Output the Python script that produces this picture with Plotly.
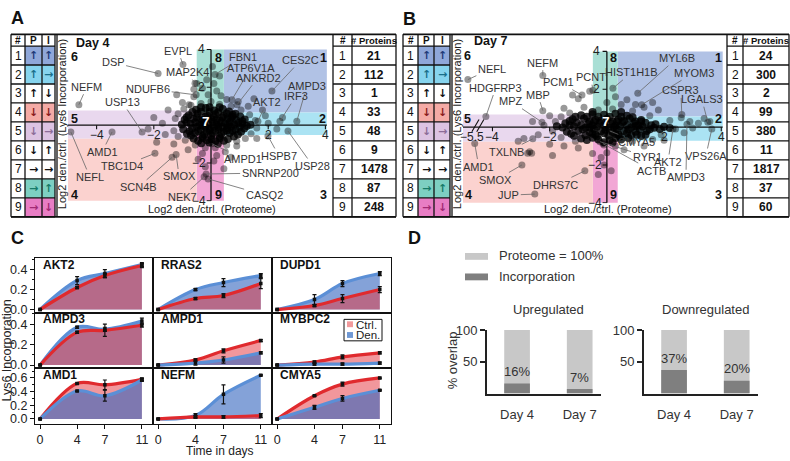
import plotly.graph_objects as go

W, H = 790, 461
FONT = "Liberation Sans, Arial, Helvetica, sans-serif"

# ======================= DATA =======================
class_ids = [1, 2, 3, 4, 5, 6, 7, 8, 9]
proteome_arrow = ["↑", "↑", "↑", "↓", "↓", "↓", "→", "→", "→"]
incorp_arrow = ["↑", "→", "↓", "↓", "→", "↑", "→", "↑", "↓"]
proteins_day4 = [21, 112, 1, 33, 48, 9, 1478, 87, 248]
proteins_day7 = [24, 300, 2, 99, 380, 11, 1817, 37, 60]

scatter_ticks = [-4, -2, 2, 4]

# class thresholds (log2 ratios): proteome [low, high]; incorporation left/right [low, high]
day4_x_thr = [-0.5, 0.45]
day4_yl_thr = [-0.72, 0.77]
day4_yr_thr = [-0.52, 0.67]
day7_x_thr = [-0.49, 0.38]
day7_yl_thr = [-0.77, 0.67]
day7_yr_thr = [-0.72, 0.56]

# labelled proteins
day4_names = ["EVPL", "DSP", "MAP2K4", "NDUFB6", "NEFM", "USP13", "AMD1", "NEFL", "TBC1D4",
              "SCN4B", "SMOX", "NEK7", "FBN1", "ATP6V1A", "ANKRD2", "CES2C", "AMPD3", "IRF3",
              "AKT2", "AMPD1", "HSPB7", "USP28", "SNRNP200", "CASQ2"]
day4_x = [-0.98, -1.85, -0.56, -0.52, -4.62, -2.41, -3.46, -4.90, -1.96, -1.36, -1.22, -0.24,
          0.14, 0.73, 0.91, 2.13, 3.0, 2.41, 1.64, 0.03, 1.99, 2.69, -0.17, -0.10]
day4_y = [3.20, 2.73, 2.22, 1.60, 1.08, -0.36, -0.36, -0.36, -1.49, -1.70, -1.55, -2.73,
          2.68, 1.34, 1.08, 1.80, 0.21, 0.21, 0.21, -0.98, -0.57, -0.31, -2.58, -2.84]
day4_ax = [-5, -45, -8, -48, 8, -20, -10, 19, -33, -34, 3, -22, 28, 19, 21, 29, 10, 16, 9, 31, 11, 25, 64, 56]
day4_ay = [-14, -11, -11, -6, -18, -30, 20, 45, 13, 30, 22, 20, -17, -32, -27, -31, -35, -25, -19, 15, 20, 35, -1, 16]

day7_names = ["NEFL", "NEFM", "PCM1", "PCNT", "HDGFRP3", "MBP", "MPZ", "TXLNB", "AMD1", "SMOX",
              "DHRS7C", "JUP", "HIST1H1B", "MYL6B", "MYOM3", "CSPR3", "LGALS3", "VPS26A", "AKT2",
              "AMPD3", "CMYA5", "RYR1", "ACTB"]
day7_x = [-4.86, -2.24, -0.87, -0.49, -4.23, -2.24, -2.27, -2.59, -4.62, -2.97, -0.77, -2.52,
          0.21, 1.08, 1.22, 2.62, 3.53, 3.67, 2.31, 2.8, 0.1, -0.24, -0.14]
day7_y = [2.51, 2.72, 1.69, 1.95, 0.56, 0.87, 0.26, -0.62, -0.87, -2.0, -2.31, -3.54,
          2.05, 1.79, 1.18, 0.67, 0.26, -0.1, -0.1, 0.15, -0.2, -0.77, -0.87]
day7_ax = [24, 0, -23, -2, 10, -5, -31, -26, 4, -26, -29, -26, 19, 39, 52, -1, -6, -6, -5, -1, 27, 47, 49]
day7_ay = [-11, -13, -13, -13, -29, -16, -21, 13, 23, 15, 14, 1, -16, -35, -32, -24, -23, 27, 33, 53, 11, 15, 27]

# unlabelled proteins: densely packed centre of each cloud
day4_core = [
    (-0.52, 0.82), (-0.18, 0.9), (0.12, 0.78), (0.41, 0.85), (0.63, 0.72),
    (-0.78, 0.52), (-0.47, 0.6), (-0.13, 0.5), (0.16, 0.58), (0.44, 0.49), (0.76, 0.55), (1.02, 0.46),
    (-0.92, 0.28), (-0.61, 0.33), (-0.29, 0.25), (0.02, 0.31), (0.31, 0.24), (0.58, 0.34), (0.88, 0.27), (1.18, 0.3),
    (-1.02, 0.04), (-0.72, 0.08), (-0.41, 0.01), (-0.12, 0.06), (0.19, 0.02), (0.49, 0.09), (0.81, 0.03), (1.1, 0.07), (1.38, 0.02),
    (-0.97, -0.21), (-0.66, -0.17), (-0.36, -0.24), (-0.04, -0.19), (0.27, -0.22), (0.56, -0.16), (0.86, -0.23), (1.16, -0.18),
    (-0.84, -0.46), (-0.56, -0.42), (-0.24, -0.49), (0.06, -0.44), (0.36, -0.47), (0.66, -0.41), (0.94, -0.5),
    (-0.61, -0.71), (-0.29, -0.68), (0.02, -0.74), (0.31, -0.69), (0.59, -0.73),
    (-0.34, -0.96), (-0.06, -0.92), (0.24, -0.98),
    (-0.5, 0.4), (-0.2, 0.45), (0.1, 0.4), (0.4, 0.42), (0.7, 0.38), (-0.55, 0.15), (-0.25, 0.12),
    (0.05, 0.18), (0.35, 0.14), (0.65, 0.16), (0.95, 0.12), (-0.5, -0.08), (-0.2, -0.1), (0.1, -0.06),
    (0.4, -0.1), (0.7, -0.07), (-0.45, -0.32), (-0.15, -0.35), (0.15, -0.3), (0.45, -0.34), (0.75, -0.3),
    (-0.3, -0.58), (0.0, -0.55), (0.3, -0.6),
    (-0.65, 0.7), (-0.35, 0.72), (-0.05, 0.7), (0.25, 0.68), (0.55, 0.62), (0.85, 0.6),
    (-0.85, 0.42), (-0.35, 0.3), (0.2, 0.28), (0.75, 0.45), (1.1, 0.2), (1.25, -0.05),
    (-0.85, 0.15), (-0.3, -0.02), (0.25, -0.1), (0.6, 0.0), (1.0, -0.1),
    (-0.75, -0.32), (-0.05, -0.25), (0.55, -0.28), (1.05, -0.35),
    (-0.7, -0.55), (-0.15, -0.8), (0.15, -0.85), (0.45, -0.82), (0.8, -0.6), (-0.45, -0.82),
    (-0.05, 0.95), (0.3, 0.95), (-0.35, 0.95),
]
# unlabelled proteins: sparse fringe of each cloud
day4_cloud = [
    (-1.25, 0.35), (-1.3, -0.3), (-1.15, 0.6), (-0.95, 0.85), (-0.7, 1.05), (-0.35, 1.15), (0.0, 1.25),
    (0.3, 1.1), (0.7, 1.0), (1.05, 0.8), (1.35, 0.55), (1.55, 0.25), (1.6, -0.15), (1.4, -0.45),
    (1.2, -0.7), (0.9, -0.85), (0.55, -1.05), (0.15, -1.2), (-0.2, -1.2), (-0.55, -1.05), (-0.9, -0.8),
    (-1.15, -0.6),
    (-0.1, 1.6), (0.2, 1.8), (-0.3, 1.95), (0.1, 2.2), (-0.15, 2.4), (0.35, 1.55), (0.55, 1.35),
    (0.95, 1.25), (1.3, 1.0), (-0.6, 1.5), (-1.0, 1.2), (-1.5, 0.8), (-1.7, 0.1), (-1.6, -0.5),
    (-1.3, -1.0), (-0.8, -1.3), (-0.3, -1.5), (0.2, -1.6), (0.1, -1.9), (0.5, -1.4), (0.9, -1.1),
    (1.6, -0.7), (1.9, 0.5), (2.0, 0.1), (1.8, 0.8), (2.3, -0.2), (-2.0, 0.4), (-1.9, -0.9),
    (-2.2, -0.2), (0.7, -1.7), (-0.45, -1.8), (0.3, 2.6), (-0.5, 2.2), (1.5, 1.4), (2.5, 0.4),
    (-1.2, 1.6), (-0.2, -2.2), (0.45, -2.3), (-0.77, 1.08), (-0.6, 1.9), (0.05, 3.1),
]
day7_core = [
    (-0.9, 0.62), (-0.5, 0.68), (-0.1, 0.65), (0.3, 0.7), (0.7, 0.6),
    (-1.2, 0.42), (-0.8, 0.45), (-0.4, 0.38), (0.0, 0.44), (0.4, 0.4), (0.8, 0.46), (1.2, 0.38),
    (-1.45, 0.2), (-1.05, 0.24), (-0.65, 0.17), (-0.25, 0.22), (0.15, 0.18), (0.55, 0.25), (0.95, 0.2), (1.35, 0.23), (1.7, 0.15),
    (-1.55, -0.02), (-1.15, 0.03), (-0.75, -0.04), (-0.35, 0.02), (0.05, -0.03), (0.45, 0.04), (0.85, -0.02), (1.25, 0.03), (1.65, -0.04), (2.0, 0.02),
    (-1.4, -0.24), (-1.0, -0.2), (-0.6, -0.27), (-0.2, -0.22), (0.2, -0.26), (0.6, -0.2), (1.0, -0.25), (1.4, -0.21),
    (-1.15, -0.46), (-0.75, -0.43), (-0.35, -0.48), (0.05, -0.44), (0.45, -0.49), (0.85, -0.42), (1.2, -0.47),
    (-0.7, -0.68), (-0.3, -0.65), (0.1, -0.7), (0.5, -0.66),
    (-0.6, 0.3), (-0.2, 0.33), (0.2, 0.3), (0.6, 0.32), (1.0, 0.3), (-0.9, 0.1), (-0.5, 0.08),
    (-0.1, 0.1), (0.3, 0.07), (0.7, 0.1), (1.1, 0.08), (-0.85, -0.12), (-0.45, -0.1), (-0.05, -0.14),
    (0.35, -0.1), (0.75, -0.13), (1.15, -0.1), (-0.5, -0.35), (-0.1, -0.33), (0.3, -0.36), (0.7, -0.32),
    (-1.1, 0.55), (-0.7, 0.55), (-0.3, 0.55), (0.1, 0.55), (0.5, 0.55), (0.9, 0.52),
    (-1.3, 0.32), (-0.45, 0.28), (0.35, 0.3), (1.2, 0.3), (1.55, 0.1), (1.85, -0.1),
    (-1.3, 0.08), (-0.6, -0.02), (0.25, 0.0), (1.0, 0.05), (1.5, -0.12),
    (-1.25, -0.35), (-0.4, -0.4), (0.4, -0.38), (1.05, -0.4), (1.35, -0.4),
    (-0.9, -0.6), (-0.5, -0.56), (0.3, -0.58), (0.75, -0.58), (-0.1, -0.8), (0.2, -0.82),
    (-1.75, 0.05), (2.2, -0.05), (-0.5, 0.8), (0.5, 0.8),
]
day7_cloud = [
    (-1.8, 0.3), (-1.9, -0.2), (-1.6, 0.55), (-1.3, 0.75), (-0.3, 0.9), (0.2, 0.95), (0.9, 0.85),
    (1.5, 0.6), (2.2, 0.35), (2.4, -0.1), (1.9, -0.4), (1.6, -0.65), (0.9, -0.75), (-1.1, -0.75),
    (-1.6, -0.55), (-0.1, -0.95), (0.3, -1.0),
    (-2.2, 0.1), (-2.4, -0.4), (-2.0, 0.6), (-1.5, 1.0), (-0.8, 1.05), (0.0, 1.3), (0.5, 1.2),
    (1.0, 1.2), (1.3, 1.05), (1.8, 0.9), (2.6, 0.5), (2.9, 0.3), (3.2, 0.2), (2.7, -0.3), (3.0, -0.05),
    (2.0, -0.7), (1.3, -1.0), (0.6, -1.2), (0.0, -1.35), (-0.2, -1.6), (-0.1, -2.0), (0.15, -2.3),
    (-0.3, -2.5), (-0.5, -1.4), (-1.0, -1.1), (-1.5, -1.0), (-2.0, -0.9), (-2.6, 0.3), (-2.9, -0.6),
    (-1.0, 1.5), (0.3, 1.6), (0.7, 1.45), (1.6, 1.3), (3.4, 0.45), (3.6, 0.3), (-2.7, -1.3),
    (-1.9, -1.5), (-3.1, -0.75), (-2.77, -1.38), (-2.63, -1.38), (-1.2, 1.7), (-0.6, 1.9),
]

# panel C: Lys6 incorporation time course
time_days = [0, 4, 7, 11]
genes = ["AKT2", "RRAS2", "DUPD1", "AMPD3", "AMPD1", "MYBPC2", "AMD1", "NEFM", "CMYA5"]
ctrl_incorp = [[0, 0.22, 0.34, 0.44], [0, 0.11, 0.14, 0.26], [0, 0.04, 0.11, 0.20],
               [0, 0.32, 0.34, 0.39], [0, 0.05, 0.14, 0.24], [0, 0.03, 0.08, 0.12],
               [0, 0.52, 0.50, 0.58], [0, 0.03, 0.03, 0.05], [0, 0.34, 0.51, 0.60]]
den_incorp = [[0, 0.29, 0.36, 0.45], [0, 0.20, 0.27, 0.34], [0, 0.10, 0.26, 0.36],
              [0, 0.37, 0.35, 0.43], [0, 0.02, 0.05, 0.12], [0, 0.01, 0.01, 0.02],
              [0, 0.41, 0.34, 0.57], [0, 0.05, 0.36, 0.64], [0, 0.17, 0.30, 0.42]]
ctrl_err = [[0, 0.01, 0.02, 0.02], [0, 0.01, 0.02, 0.05], [0, 0.01, 0.04, 0.03],
            [0, 0.01, 0.06, 0.02], [0, 0.01, 0.02, 0.01], [0, 0.01, 0.02, 0.01],
            [0, 0.01, 0.07, 0.02], [0, 0.02, 0.02, 0.03], [0, 0.01, 0.03, 0.01]]
den_err = [[0, 0.04, 0.04, 0.02], [0, 0.01, 0.04, 0.02], [0, 0.05, 0.03, 0.02],
           [0, 0.01, 0.02, 0.03], [0, 0.02, 0.03, 0.01], [0, 0.01, 0.01, 0.01],
           [0, 0.01, 0.08, 0.02], [0, 0.03, 0.14, 0.01], [0, 0.03, 0.04, 0.01]]

# panel D: % overlap
overlap_days = ["Day 4", "Day 7"]
proteome_pct = [100, 100]
incorp_up_pct = [16, 7]
incorp_down_pct = [37, 20]

# ======================= STYLE =======================
cell_colors = {1: "#8fa7d9", 2: "#86d4ee", 4: "#f4aaa5", 5: "#dcc3e2", 8: "#7dcfc2", 9: "#e87dc4"}
arrow_colors = {1: "#1f3a78", 2: "#1a6f8a", 3: "#111111", 4: "#8a1c1c", 5: "#8c6c98",
                6: "#111111", 7: "#111111", 8: "#177a68", 9: "#a22a74"}
region_colors = {1: "#b1c2e5", 2: "#abe3f3", 4: "#fbd2cf", 5: "#e9d8ee", 8: "#a9dfd5", 9: "#f2a7d5"}

shapes, annots = [], []
fig = go.Figure()
lay = {}


def prect(x0, y0, x1, y1, fill=None, lc=None, lw=0, layer="below"):
    shapes.append(dict(type="rect", xref="paper", yref="paper",
                       x0=x0 / W, x1=x1 / W, y0=1 - y1 / H, y1=1 - y0 / H,
                       fillcolor=fill if fill else "rgba(0,0,0,0)",
                       line=dict(color=lc if lc else "rgba(0,0,0,0)", width=lw), layer=layer))


def pline(x0, y0, x1, y1, color="#111", lw=1.3):
    shapes.append(dict(type="line", xref="paper", yref="paper",
                       x0=x0 / W, x1=x1 / W, y0=1 - y0 / H, y1=1 - y1 / H,
                       line=dict(color=color, width=lw), layer="above"))


def ptext(x, y, s, size=11, color="#222", bold=False, xanchor="center", angle=0, family=FONT):
    annots.append(dict(xref="paper", yref="paper", x=x / W, y=1 - y / H,
                       text=f"<b>{s}</b>" if bold else s, showarrow=False,
                       xanchor=xanchor, yanchor="middle", textangle=angle,
                       font=dict(family=family, size=size, color=color)))


def axn(i, k):
    return k if i == 1 else f"{k}{i}"


def axkey(i, k):
    return f"{k}axis" if i == 1 else f"{k}axis{i}"


# ======================= PANELS A & B =======================
TOP, HDR, ROW_H, BOT = 28, 40, 19.44, 215

panels = [
    dict(i=1, frame=(11, 396), lcols=[11, 25, 42, 55], plot_left=57, rcols=[333, 352, 396],
         dom_x=(68, 330), dom_y=(33, 199), xr=(-5.0, 4.16), counts=proteins_day4, day="Day 4",
         day_pos=(74, 37), xthr=day4_x_thr, ylthr=day4_yl_thr, yrthr=day4_yr_thr,
         core=day4_core, cloud=day4_cloud, names=day4_names, px=day4_x, py=day4_y,
         oax=day4_ax, oay=day4_ay, ytitle=(62, 120), xtitle=(212, 207),
         nums={"1": (323, 52), "2": (322, 115), "3": (323, 193), "4": (74, 193), "5": (74, 115),
               "6": (74, 51), "8": (218, 52), "9": (218, 193)}, seven=(206, 117)),
    dict(i=2, frame=(403, 789), lcols=[403, 418, 434, 450], plot_left=452, rcols=[727, 743, 789],
         dom_x=(463, 725), dom_y=(35, 201), xr=(-5.03, 4.13), counts=proteins_day7, day="Day 7",
         day_pos=(472, 35), xthr=day7_x_thr, ylthr=day7_yl_thr, yrthr=day7_yr_thr,
         core=day7_core, cloud=day7_cloud, names=day7_names, px=day7_x, py=day7_y,
         oax=day7_ax, oay=day7_ay, ytitle=(457, 120), xtitle=(608, 207),
         nums={"1": (718, 52), "2": (718, 115), "3": (718, 193), "4": (468, 193), "5": (467, 115),
               "6": (467, 50), "8": (613, 52), "9": (613, 193)}, seven=(606, 117)),
]

YR = (-4.02, 4.54)
for p in panels:
    i = p["i"]
    xa, ya = axn(i, "x"), axn(i, "y")
    lay[axkey(i, "x")] = dict(domain=[p["dom_x"][0] / W, p["dom_x"][1] / W], range=list(p["xr"]),
                              visible=False, fixedrange=True)
    lay[axkey(i, "y")] = dict(domain=[1 - p["dom_y"][1] / H, 1 - p["dom_y"][0] / H], range=list(YR),
                              visible=False, fixedrange=True)
    xmin = p["xr"][0]
    xl, xr_ = p["xthr"]
    yl_lo, yl_hi = p["ylthr"]
    yr_lo, yr_hi = p["yrthr"]
    regions = {1: (xr_, 4.05, yr_hi, 4.0), 2: (xr_, 4.05, yr_lo, yr_hi), 8: (xl, xr_, yr_hi, 4.0),
               9: (xl, xr_, -4.0, yr_lo), 5: (xmin, xl, yl_lo, yl_hi), 4: (xmin, xl, -4.0, yl_lo)}
    for cid, (x0, x1, y0, y1) in regions.items():
        shapes.append(dict(type="rect", xref=xa, yref=ya, x0=x0, x1=x1, y0=y0, y1=y1,
                           fillcolor=region_colors[cid], line=dict(width=0), layer="below"))
    # axes through the origin
    shapes.append(dict(type="line", xref=xa, yref=ya, x0=xmin, x1=4.05, y0=0, y1=0,
                       line=dict(color="#111", width=1.3), layer="below"))
    shapes.append(dict(type="line", xref=xa, yref=ya, x0=0, x1=0, y0=-4, y1=4,
                       line=dict(color="#111", width=1.3), layer="below"))
    for t in scatter_ticks:
        shapes.append(dict(type="line", xref=xa, yref=ya, x0=t, x1=t, y0=0, y1=-0.22,
                           line=dict(color="#111", width=1.1), layer="below"))
        shapes.append(dict(type="line", xref=xa, yref=ya, x0=0, x1=-0.15, y0=t, y1=t,
                           line=dict(color="#111", width=1.1), layer="below"))
        annots.append(dict(xref=xa, yref=ya, x=t, y=0, text=str(t).replace("-", "\u2212"),
                           showarrow=False, yshift=-10,
                           font=dict(family=FONT, size=12, color="#222")))
        annots.append(dict(xref=xa, yref=ya, x=0, y=t, text=str(t).replace("-", "\u2212"),
                           showarrow=False, xshift=-10 if t > 0 else -12,
                           font=dict(family=FONT, size=12, color="#222")))
    if i == 2:
        for bx in (-4.72, -4.55):
            shapes.append(dict(type="line", xref=xa, yref=ya, x0=bx, x1=bx + 0.25, y0=-0.25, y1=0.4,
                               line=dict(color="#111", width=1.1), layer="below"))
        annots.append(dict(xref=xa, yref=ya, x=-4.72, y=0, text="\u22125.5", showarrow=False,
                           yshift=-10, font=dict(family=FONT, size=12, color="#222")))
    # proteins: sparse / labelled ones, then the dense centre
    cx = [c[0] for c in p["cloud"]] + p["px"]
    cy = [c[1] for c in p["cloud"]] + p["py"]
    fig.add_trace(go.Scatter(x=cx, y=cy, mode="markers", xaxis=xa, yaxis=ya,
                             marker=dict(size=7, color="rgba(0,0,0,0.4)", line=dict(width=0)),
                             hoverinfo="skip"))
    fig.add_trace(go.Scatter(x=[c[0] for c in p["core"]], y=[c[1] for c in p["core"]],
                             mode="markers", xaxis=xa, yaxis=ya,
                             marker=dict(size=8, color="rgba(0,0,0,0.8)", line=dict(width=0)),
                             hoverinfo="skip"))
    for n, x, y, ox, oy in zip(p["names"], p["px"], p["py"], p["oax"], p["oay"]):
        annots.append(dict(xref=xa, yref=ya, x=x, y=y, text=n, showarrow=True, arrowhead=0,
                           arrowwidth=0.8, arrowcolor="#666", ax=ox, ay=oy, standoff=0,
                           font=dict(family=FONT, size=11, color="#333")))
    # class numbers inside plot
    for k, (x, y) in p["nums"].items():
        ptext(x, y, k, 12.5, "#111", bold=True)
    ptext(p["seven"][0], p["seven"][1], "7", 13.5, "#ffffff", bold=True)
    ptext(p["day_pos"][0], p["day_pos"][1], p["day"], 12.5, "#111", bold=True, xanchor="left")
    ptext(p["ytitle"][0], p["ytitle"][1], "Log2 den./ctrl. (Lys6 Incorporation)", 11, "#222", angle=-90)
    ptext(p["xtitle"][0], p["xtitle"][1], "Log2 den./ctrl. (Proteome)", 11, "#222")

    # left table
    c = p["lcols"]
    ptext((c[0] + c[1]) / 2, (TOP + HDR) / 2, "#", 10, "#111", bold=True)
    ptext((c[1] + c[2]) / 2, (TOP + HDR) / 2, "P", 10, "#111", bold=True)
    ptext((c[2] + c[3]) / 2, (TOP + HDR) / 2, "I", 10, "#111", bold=True)
    for k, cid in enumerate(class_ids):
        y0 = HDR + k * ROW_H
        yc = y0 + ROW_H / 2
        if cid in cell_colors:
            prect(c[1], y0, c[3], y0 + ROW_H, fill=cell_colors[cid])
        ptext((c[0] + c[1]) / 2, yc, str(cid), 12, "#111")
        ptext((c[1] + c[2]) / 2, yc, proteome_arrow[k], 11, arrow_colors[cid], bold=True,
              family="DejaVu Sans")
        ptext((c[2] + c[3]) / 2, yc, incorp_arrow[k], 11, arrow_colors[cid], bold=True,
              family="DejaVu Sans")
    # right table
    r = p["rcols"]
    ptext((r[0] + r[1]) / 2, (TOP + HDR) / 2, "#", 10, "#111", bold=True)
    ptext((r[1] + r[2]) / 2, (TOP + HDR) / 2, "# Proteins", 9.5, "#111", bold=True)
    for k, cid in enumerate(class_ids):
        yc = HDR + k * ROW_H + ROW_H / 2
        ptext((r[0] + r[1]) / 2, yc, str(cid), 12, "#111")
        ptext((r[1] + r[2]) / 2, yc, str(p["counts"][k]), 12, "#111", bold=True)
    # grid lines
    for k in range(10):
        yy = HDR + k * ROW_H
        pline(c[0], yy, c[3], yy)
        pline(r[0], yy, r[2], yy)
    for xx in c:
        pline(xx, TOP, xx, BOT)
    for xx in r:
        pline(xx, TOP, xx, BOT)
    pline(p["plot_left"], TOP, p["plot_left"], BOT)
    pline(p["frame"][0], TOP, p["frame"][1], TOP, lw=1.6)
    pline(p["frame"][0], BOT, p["frame"][1], BOT, lw=1.6)

# ======================= PANEL C =======================
col_x = [(35, 153), (153, 272), (272, 391)]
row_y = [(257, 313), (313, 370), (370, 427)]
row_rng = [[-0.03, 0.517], [-0.03, 0.514], [-0.071, 0.743]]
row_ticks = [[0, 0.2, 0.4], [0, 0.2, 0.4], [0, 0.2, 0.4, 0.6]]
RED_FILL, BLUE_FILL = "rgba(228,55,65,0.52)", "rgba(50,100,190,0.6)"
RED_LINE, BLUE_LINE = "#e02a2e", "#5b8fd6"

for g in range(9):
    r_, c_ = divmod(g, 3)
    i = 3 + g
    xa, ya = axn(i, "x"), axn(i, "y")
    xd = dict(domain=[col_x[c_][0] / W, col_x[c_][1] / W], range=[-0.55, 12.2],
              showline=True, mirror=True, linecolor="#111", linewidth=1.3, showgrid=False,
              zeroline=False, fixedrange=True, anchor=ya)
    if r_ == 2:
        xd.update(ticks="outside", ticklen=4, tickwidth=1.2, tickcolor="#111", tickvals=time_days,
                  tickfont=dict(family=FONT, size=12.5, color="#222"))
    else:
        xd.update(showticklabels=False, ticks="")
    yd = dict(domain=[1 - row_y[r_][1] / H, 1 - row_y[r_][0] / H], range=row_rng[r_],
              showline=True, mirror=True, linecolor="#111", linewidth=1.3, showgrid=False,
              zeroline=False, fixedrange=True, anchor=xa)
    if c_ == 0:
        yd.update(ticks="outside", ticklen=4, tickwidth=1.2, tickcolor="#111", tickvals=row_ticks[r_],
                  tickformat=".1f", tickfont=dict(family=FONT, size=12.5, color="#222"),
                  minor=dict(ticks="outside", ticklen=2, tickwidth=1, tickcolor="#111",
                             dtick=0.1, tick0=0, showgrid=False))
    else:
        yd.update(showticklabels=False, ticks="")
    lay[axkey(i, "x")] = xd
    lay[axkey(i, "y")] = yd

    series = [(ctrl_incorp[g], ctrl_err[g], RED_FILL, RED_LINE),
              (den_incorp[g], den_err[g], BLUE_FILL, BLUE_LINE)]
    series.sort(key=lambda s: -sum(s[0]))
    for vals, err, fc, lc in series:
        fig.add_trace(go.Scatter(x=time_days, y=vals, mode="lines", xaxis=xa, yaxis=ya,
                                 line=dict(shape="spline", smoothing=1.0, color=lc, width=3.2),
                                 fill="tozeroy", fillcolor=fc, hoverinfo="skip"))
    for vals, err, fc, lc in series:
        fig.add_trace(go.Scatter(x=time_days, y=vals, mode="markers", xaxis=xa, yaxis=ya,
                                 marker=dict(symbol="square", size=3.5, color="#111"),
                                 error_y=dict(type="data", array=err, visible=True, color="#111",
                                              thickness=1.2, width=2),
                                 hoverinfo="skip"))
    ptext(col_x[c_][0] + 6, row_y[r_][0] + 7, genes[g], 12, "#111", bold=True, xanchor="left")

# legend inside MYBPC2
prect(344, 320, 382, 342, fill="#ffffff", lc="#111", lw=1, layer="above")
prect(347, 322, 353, 328, fill="#f29a9c", layer="above")
prect(347, 333, 353, 339, fill="#6f98d4", layer="above")
ptext(354, 325.5, "Ctrl.", 11.5, "#222", xanchor="left")
ptext(354, 336.5, "Den.", 11.5, "#222", xanchor="left")
ptext(7, 352, "Lys6 Incorporation", 12.5, "#222", angle=-90)
ptext(220, 455, "Time in days", 12, "#222")

# ======================= PANEL D =======================
for i, dom, inc, title, tx in [(12, (487, 601), incorp_up_pct, "Upregulated", 548),
                               (13, (644, 758), incorp_down_pct, "Downregulated", 705)]:
    xa, ya = axn(i, "x"), axn(i, "y")
    lay[axkey(i, "x")] = dict(domain=[dom[0] / W, dom[1] / W], range=[-0.48, 1.34],
                              showline=True, linecolor="#222", linewidth=2, ticks="",
                              tickvals=[0, 1], ticktext=overlap_days, showgrid=False, zeroline=False,
                              ticklabelstandoff=8, tickfont=dict(family=FONT, size=13, color="#333"),
                              fixedrange=True, anchor=ya)
    lay[axkey(i, "y")] = dict(domain=[1 - 396 / H, 1 - 331 / H], range=[0, 100],
                              showline=True, linecolor="#222", linewidth=2, ticks="outside",
                              ticklen=5, tickwidth=1.6, tickcolor="#222", tickvals=[50, 100],
                              showgrid=False, zeroline=False,
                              tickfont=dict(family=FONT, size=13, color="#333"),
                              fixedrange=True, anchor=xa)
    fig.add_trace(go.Bar(x=[0, 1], y=proteome_pct, width=0.41, marker=dict(color="#c8c8c8", line=dict(width=0)),
                         xaxis=xa, yaxis=ya, hoverinfo="skip"))
    fig.add_trace(go.Bar(x=[0, 1], y=inc, width=0.41, marker=dict(color="#7f7f7f", line=dict(width=0)),
                         xaxis=xa, yaxis=ya, hoverinfo="skip"))
    for k, v in enumerate(inc):
        annots.append(dict(xref=xa, yref=ya, x=k, y=v, text=f"{v}%", showarrow=False, yshift=12,
                           font=dict(family=FONT, size=13, color="#333")))
    ptext(tx, 310, title, 13, "#333")

ptext(452, 362, "% overlap", 13, "#333", angle=-90)
prect(465, 252, 488, 259, fill="#c8c8c8")
prect(465, 273, 488, 280, fill="#7f7f7f")
ptext(497, 255, "Proteome = 100%", 13, "#333", xanchor="left")
ptext(497, 276, "Incorporation", 13, "#333", xanchor="left")

# panel letters
for s, x, y in [("A", 17, 11), ("B", 409, 12), ("C", 17, 237), ("D", 414, 237)]:
    ptext(x, y, s, 18, "#111", bold=True)

fig.update_layout(width=W, height=H, margin=dict(l=0, r=0, t=0, b=0),
                  paper_bgcolor="white", plot_bgcolor="rgba(0,0,0,0)",
                  showlegend=False, barmode="overlay", hovermode=False,
                  font=dict(family=FONT), shapes=shapes, annotations=annots, **lay)
fig.write_html("out.html", config={"displayModeBar": False},
               post_script="document.body.style.margin='0';document.body.style.overflow='hidden';")
